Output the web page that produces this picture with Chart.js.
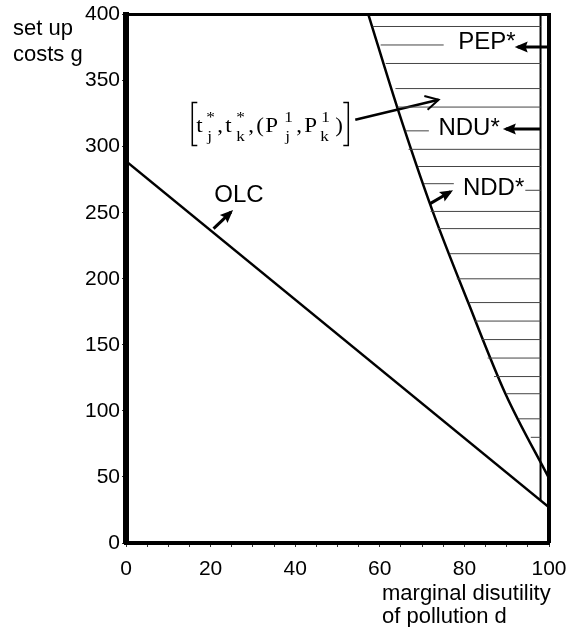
<!DOCTYPE html>
<html>
<head>
<meta charset="utf-8">
<script src="https://cdn.jsdelivr.net/npm/chart.js@4.4.0/dist/chart.umd.min.js"></script>
<style>
  html, body { margin: 0; padding: 0; background: #fff; }
  canvas { display: block; }
</style>
</head>
<body>
<canvas id="costDiagram" width="583" height="627"></canvas>
<script>
// axis ticks
const xLabels = [0, 20, 40, 60, 80, 100];
const yLabels = [0, 50, 100, 150, 200, 250, 300, 350, 400];

// OLC line
const olcX = [0, 100];
const olcY = [289, 27];

// NDD* curve
const nddX = [57.3, 64.1, 72.4, 80.9, 89.7, 100];
const nddY = [400, 330, 252, 182, 113, 49];

// inner vertical line (PEP*)
const innerX = [98, 98];
const innerY = [32, 400];

// hatch lines in the region right of NDD*
const hatchY    = [391, 377, 363, 344, 330, 312, 298, 285, 272, 251, 238, 219, 200, 182, 168, 154, 140, 126, 113, 94, 80, 267];
const hatchFrom = [58.3, 60.2, 61.4, 63.7, 64.2, 66.1, 66.8, 69, 70.4, 72, 73.7, 76.5, 78.2, 81, 82.5, 84.1, 85.5, 87, 90, 92.9, 95.7, 94.4];
const hatchTo   = [98, 75.1, 98, 98, 98, 71.6, 98, 98, 77.5, 98, 98, 98, 98, 98, 98, 98, 98, 98, 98, 98, 98, 98];

// arrows (start -> tip)
const pepArrowX = [100, 92.6];   const pepArrowY = [375.5, 375.5];
const nduArrowX = [98, 89.8];    const nduArrowY = [313.4, 313.4];
const nddArrowX = [71.9, 76.7];  const nddArrowY = [256.9, 265.9];
const olcArrowX = [20.7, 24.8];  const olcArrowY = [238, 250.5];
const setArrowX = [54.2, 73.9];  const setArrowY = [320.4, 335.5];

// text labels
const labelText = ['PEP*', 'NDU*', 'NDD*', 'OLC'];
const labelX = [85.3, 81.1, 86.9, 26.7];
const labelY = [379, 314.2, 268.4, 263.1];

const xy = (xs, ys) => xs.map((v, i) => ({ x: v, y: ys[i] }));

const hatchPoints = [];
hatchY.forEach((g, i) => {
    hatchPoints.push({ x: hatchFrom[i], y: g }, { x: hatchTo[i], y: g }, { x: hatchTo[i], y: null });
});

const lineBase = {
    borderColor: '#000',
    pointRadius: 0,
    fill: false,
    tension: 0
};

const arrowSet = (xs, ys, head) => Object.assign({}, lineBase, {
    data: xy(xs, ys),
    borderWidth: 3,
    arrowHead: head
});

function drawBracketLabel(ctx, x0, yc) {
    const main = '20px "Liberation Serif", "Times New Roman", serif';
    const small = '15px "Liberation Serif", "Times New Roman", serif';
    const pieces = [
        ['t', 6, 'm'], ['*', 16, 'sup'], ['j', 17, 'sub'], [',', 27, 'm'],
        ['t', 35, 'm'], ['*', 46, 'sup'], ['k', 46, 'sub'], [',', 58, 'm'],
        ['(', 66, 'm'], ['P', 75, 'm'], ['1', 94, 'sup'], ['j', 95, 'sub'], [',', 106, 'm'],
        ['P', 114, 'm'], ['1', 131, 'sup'], ['k', 130, 'sub'], [')', 145, 'm']
    ];
    ctx.save();
    ctx.fillStyle = '#000';
    ctx.textAlign = 'left';
    ctx.textBaseline = 'alphabetic';
    pieces.forEach(([t, dx, kind]) => {
        const dy = kind === 'm' ? 8.5 : (kind === 'sup' ? -1 : 18);
        ctx.save();
        ctx.translate(x0 + dx, yc + dy);
        ctx.scale(1.15, 1);
        ctx.font = kind === 'm' ? main : small;
        ctx.fillText(t, 0, 0);
        ctx.restore();
    });
    // brackets
    ctx.strokeStyle = '#000';
    ctx.lineWidth = 1.5;
    ctx.beginPath();
    ctx.moveTo(x0 + 7, yc - 21); ctx.lineTo(x0 + 2, yc - 21); ctx.lineTo(x0 + 2, yc + 22); ctx.lineTo(x0 + 7, yc + 22);
    ctx.moveTo(x0 + 153, yc - 21); ctx.lineTo(x0 + 158, yc - 21); ctx.lineTo(x0 + 158, yc + 22); ctx.lineTo(x0 + 153, yc + 22);
    ctx.stroke();
    ctx.restore();
}

const overlay = {
    id: 'overlay',
    afterDatasetsDraw(chart) {
        const { ctx, chartArea: a, scales } = chart;
        ctx.save();
        ctx.strokeStyle = '#000';
        ctx.fillStyle = '#000';
        ctx.lineCap = 'butt';

        // top and right frame
        ctx.lineWidth = 3;
        ctx.beginPath(); ctx.moveTo(a.left, a.top); ctx.lineTo(a.right + 2, a.top); ctx.stroke();
        ctx.lineWidth = 4;
        ctx.beginPath(); ctx.moveTo(a.right, a.top - 1.5); ctx.lineTo(a.right, a.bottom); ctx.stroke();

        // arrow heads
        chart.data.datasets.forEach((ds, i) => {
            if (!ds.arrowHead) return;
            const pts = chart.getDatasetMeta(i).data;
            const p0 = pts[pts.length - 2], p1 = pts[pts.length - 1];
            const ang = Math.atan2(p1.y - p0.y, p1.x - p0.x);
            ctx.save();
            ctx.translate(p1.x, p1.y);
            ctx.rotate(ang);
            if (ds.arrowHead === 'fill') {
                ctx.beginPath();
                ctx.moveTo(3, 0);
                ctx.lineTo(-10, -5.5);
                ctx.lineTo(-8, 0);
                ctx.lineTo(-10, 5.5);
                ctx.closePath();
                ctx.fill();
            } else {
                ctx.lineWidth = 2;
                ctx.beginPath();
                ctx.moveTo(-13, -7);
                ctx.lineTo(0, 0);
                ctx.lineTo(-13, 7);
                ctx.stroke();
            }
            ctx.restore();
        });

        // labels
        ctx.font = '24px "Liberation Sans", Arial, sans-serif';
        ctx.textAlign = 'center';
        ctx.textBaseline = 'middle';
        labelText.forEach((t, i) => {
            ctx.fillText(t, scales.x.getPixelForValue(labelX[i]), scales.y.getPixelForValue(labelY[i]));
        });

        drawBracketLabel(ctx, scales.x.getPixelForValue(15.2), scales.y.getPixelForValue(317.6));

        // axis titles
        ctx.font = '22px "Liberation Sans", Arial, sans-serif';
        ctx.textAlign = 'left';
        ctx.textBaseline = 'alphabetic';
        ctx.fillText('set up', 13, 35);
        ctx.fillText('costs g', 13, 61);
        ctx.fillText('marginal disutility', 382, 600);
        ctx.fillText('of pollution d', 382, 623);
        ctx.restore();
    }
};

const tickFont = { family: '"Liberation Sans", Arial, sans-serif', size: 21 };

new Chart(document.getElementById('costDiagram').getContext('2d'), {
    type: 'line',
    data: {
        datasets: [
            Object.assign({}, lineBase, { data: hatchPoints, borderColor: '#444', borderWidth: 1, spanGaps: false }),
            Object.assign({}, lineBase, { data: xy(innerX, innerY), borderWidth: 2 }),
            Object.assign({}, lineBase, { data: xy(olcX, olcY), borderWidth: 2.5 }),
            Object.assign({}, lineBase, { data: xy(nddX, nddY), borderWidth: 2.5, cubicInterpolationMode: 'monotone' }),
            arrowSet(pepArrowX, pepArrowY, 'fill'),
            arrowSet(nduArrowX, nduArrowY, 'fill'),
            arrowSet(nddArrowX, nddArrowY, 'fill'),
            arrowSet(olcArrowX, olcArrowY, 'fill'),
            Object.assign(arrowSet(setArrowX, setArrowY, 'open'), { borderWidth: 2.5 })
        ]
    },
    options: {
        responsive: false,
        animation: false,
        layout: { padding: { top: 14, right: 34, left: 0, bottom: 0 } },
        plugins: {
            legend: { display: false },
            tooltip: { enabled: false }
        },
        scales: {
            x: {
                type: 'linear',
                min: 0,
                max: 100,
                afterFit: s => { s.height = 84; },
                ticks: {
                    stepSize: 5,
                    autoSkip: false,
                    maxRotation: 0,
                    padding: 10,
                    color: '#000',
                    font: tickFont,
                    callback: v => (xLabels.includes(v) ? String(v) : '')
                },
                grid: { drawOnChartArea: false, drawTicks: true, tickLength: 4, color: '#333' },
                border: { color: '#000', width: 4 }
            },
            y: {
                min: 0,
                max: 400,
                afterFit: s => { s.width = 126; },
                ticks: {
                    stepSize: 50,
                    padding: 2,
                    color: '#000',
                    font: tickFont,
                    callback: v => (yLabels.includes(v) ? String(v) : '')
                },
                grid: { drawOnChartArea: false, drawTicks: true, tickLength: 4, color: '#333' },
                border: { color: '#000', width: 6 }
            }
        }
    },
    plugins: [overlay]
});
</script>
</body>
</html>
